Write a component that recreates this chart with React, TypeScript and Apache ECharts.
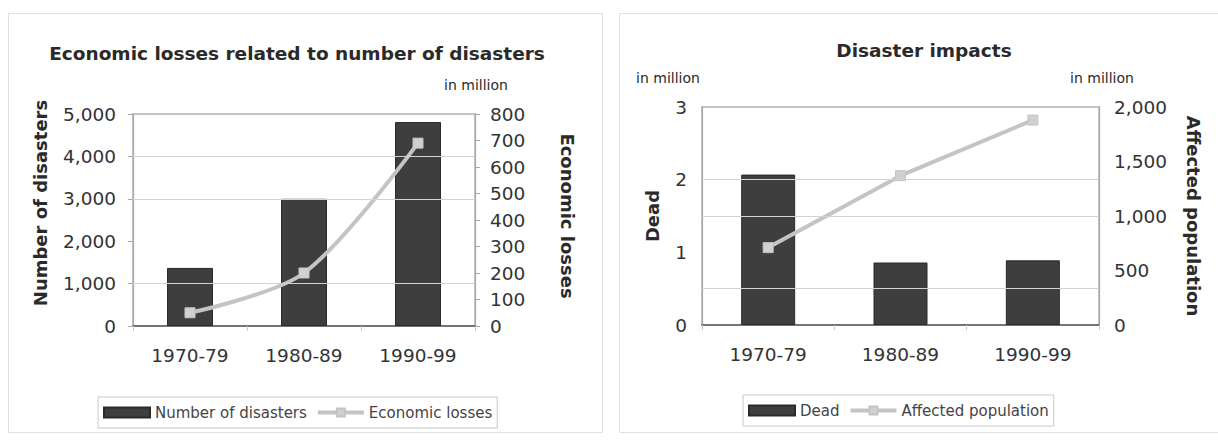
import React, { useEffect, useRef } from 'react';
import * as echarts from 'echarts';

const categories = ['1970-79', '1980-89', '1990-99'];
const disasters = [1370, 3000, 4810];
const economicLosses = [50, 200, 690];
const dead = [2.07, 0.86, 0.89];
const affected = [710, 1370, 1880];
const leftGridLines = [1000, 3000, 4000];
const rightGridLines = [0.5, 1.5, 2];

const FONT = 'DejaVu Sans';
const BAR = '#3e3e3e';
const LINE = '#c4c4c4';
const TEXT = '#2a2a2a';

const fmt = (v: number) => v.toLocaleString('en-US');

function gridHelper(name: string, xi: number, yi: number, values: number[]) {
  return {
    name,
    type: 'line',
    xAxisIndex: xi,
    yAxisIndex: yi,
    data: [],
    z: 1,
    silent: true,
    markLine: {
      silent: true,
      symbol: ['none', 'none'],
      label: { show: false },
      lineStyle: { color: '#d2d2d2', width: 1, type: 'solid' },
      data: values.map((v) => ({ yAxis: v })),
    },
  };
}

function catAxis(gridIndex: number) {
  return {
    type: 'category',
    gridIndex,
    data: categories,
    axisLine: { lineStyle: { color: '#5a5a5a', width: 1.5 } },
    axisTick: { show: true, length: 5, lineStyle: { color: '#c8c8c8' } },
    axisLabel: { fontFamily: FONT, fontSize: 18.5, color: '#333', margin: 20 },
  };
}

function valAxis(gridIndex: number, position: string, max: number, interval: number, ticks: boolean, margin: number) {
  return {
    type: 'value',
    gridIndex,
    position,
    min: 0,
    max,
    interval,
    splitLine: { show: false },
    axisLine: { show: true, lineStyle: { color: '#a8a8a8', width: 1.2 } },
    axisTick: { show: ticks, length: 5, lineStyle: { color: '#a8a8a8' } },
    axisLabel: { fontFamily: FONT, fontSize: 18.5, color: '#333', margin, formatter: fmt },
  };
}

function legendBox(barName: string, lineName: string, left: number, top: number) {
  return {
    data: [{ name: barName, icon: 'rect' }, { name: lineName }],
    left,
    top,
    orient: 'horizontal',
    itemWidth: 46,
    itemHeight: 10,
    itemGap: 9,
    padding: [8, 5],
    borderColor: '#c8c8c8',
    borderWidth: 1,
    lineStyle: { width: 4, color: LINE },
    textStyle: { fontFamily: FONT, fontSize: 15, color: '#444' },
  };
}

function label(text: string, x: number, y: number, font: string, rotation = 0) {
  return {
    type: 'text',
    x,
    y,
    rotation,
    style: { text, font, fill: TEXT, align: 'center', verticalAlign: 'middle' },
  };
}

export default function App() {
  const ref = useRef<HTMLDivElement>(null);
  useEffect(() => {
    if (!ref.current) return;
    const chart = echarts.init(ref.current, undefined, { renderer: 'svg' });
    const bold = `bold 18px "${FONT}"`;
    const small = `14px "${FONT}"`;
    chart.setOption({
      animation: false,
      backgroundColor: '#ffffff',
      grid: [
        { left: 133, top: 114, width: 342, height: 212, show: true, borderColor: '#c4c4c4', borderWidth: 2 },
        { left: 702, top: 107, width: 397, height: 218, show: true, borderColor: '#c4c4c4', borderWidth: 2 },
      ],
      xAxis: [catAxis(0), catAxis(1)],
      yAxis: [
        valAxis(0, 'left', 5000, 1000, true, 17),
        valAxis(0, 'right', 800, 100, true, 15),
        valAxis(1, 'left', 3, 1, false, 15),
        valAxis(1, 'right', 2000, 500, false, 15),
      ],
      legend: [
        legendBox('Number of disasters', 'Economic losses', 98, 397),
        legendBox('Dead', 'Affected population', 743, 395),
      ],
      series: [
        gridHelper('g0', 0, 0, leftGridLines),
        {
          name: 'Number of disasters',
          type: 'bar',
          xAxisIndex: 0,
          yAxisIndex: 0,
          data: disasters,
          barWidth: 46,
          z: 2,
          itemStyle: { color: BAR, borderColor: '#2a2a2a', borderWidth: 1 },
        },
        {
          name: 'Economic losses',
          type: 'line',
          xAxisIndex: 0,
          yAxisIndex: 1,
          data: economicLosses,
          smooth: 0.3,
          symbol: 'rect',
          symbolSize: 10,
          z: 3,
          lineStyle: { color: LINE, width: 4 },
          itemStyle: { color: '#d0d0d0', borderColor: LINE, borderWidth: 1 },
        },
        gridHelper('g1', 1, 2, rightGridLines),
        {
          name: 'Dead',
          type: 'bar',
          xAxisIndex: 1,
          yAxisIndex: 2,
          data: dead,
          barWidth: 54,
          z: 2,
          itemStyle: { color: BAR, borderColor: '#2a2a2a', borderWidth: 1 },
        },
        {
          name: 'Affected population',
          type: 'line',
          xAxisIndex: 1,
          yAxisIndex: 3,
          data: affected,
          symbol: 'rect',
          symbolSize: 10,
          z: 3,
          lineStyle: { color: LINE, width: 4 },
          itemStyle: { color: '#d0d0d0', borderColor: LINE, borderWidth: 1 },
        },
      ],
      graphic: [
        { type: 'rect', shape: { x: 8.5, y: 13.5, width: 594, height: 419 }, style: { fill: 'none', stroke: '#e0e0e0', lineWidth: 1 }, z: -1 },
        { type: 'rect', shape: { x: 619.5, y: 13.5, width: 610, height: 419 }, style: { fill: 'none', stroke: '#e0e0e0', lineWidth: 1 }, z: -1 },
        label('Economic losses related to number of disasters', 297, 53, `bold 18.5px "${FONT}"`),
        label('Disaster impacts', 924, 50, `bold 18.5px "${FONT}"`),
        label('in million', 476, 85, small),
        label('in million', 668, 78, small),
        label('in million', 1102, 78, small),
        label('Number of disasters', 40, 203, bold, Math.PI / 2),
        label('Economic losses', 567, 216, bold, -Math.PI / 2),
        label('Dead', 652, 216, bold, Math.PI / 2),
        label('Affected population', 1193, 216, bold, -Math.PI / 2),
      ],
    });
    return () => chart.dispose();
  }, []);
  return <div ref={ref} style={{ position: 'fixed', left: 0, top: 0, width: 1218, height: 441 }} />;
}
